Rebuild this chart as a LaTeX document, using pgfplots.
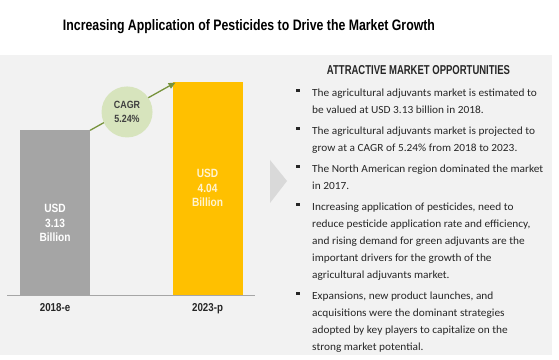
\documentclass[border=0pt]{standalone}
\usepackage{pgfplots}
\pgfplotsset{compat=1.18}
\usepackage{fontspec}
\setmainfont{Carlito}
\newfontfamily\bodyf[FakeStretch=1.04]{Carlito}
\newfontfamily\condf[FakeStretch=0.85]{Liberation Sans}
\newfontfamily\titlef{Liberation Sans}
\usetikzlibrary{arrows.meta}
\definecolor{bg}{HTML}{F2F2F2}
\definecolor{barGray}{HTML}{A5A5A5}
\definecolor{barYel}{HTML}{FFC000}
\definecolor{yelTxt}{HTML}{FFF3D0}
\definecolor{cagrFill}{HTML}{D7E4BD}
\definecolor{arrowC}{HTML}{77933C}
\definecolor{chev}{HTML}{D9D9D9}
\definecolor{txt}{HTML}{262626}
\newcommand\bodyfont{\bodyf\fontsize{10.95}{17}\selectfont}
\newcommand\bl[2]{\node[anchor=base west,inner sep=0pt,font=\bodyfont,text=txt] at (312bp,{(356-#1)*1bp}) {#2};}
\newcommand\bul[1]{\fill[txt] (296bp,{(360-#1-0.5)*1bp}) rectangle (299.5bp,{(360-#1+3)*1bp});}
\begin{document}
\begin{tikzpicture}
\fill[white] (0bp,0bp) rectangle (559bp,360bp);
\fill[bg] (0bp,5bp) rectangle (552bp,305bp);
% title
\node[text=black] at (249bp,333bp) {\resizebox{372bp}{11bp}{\titlef\bfseries Increasing Application of Pesticides to Drive the Market Growth}};
% chevron
\fill[chev] (270bp,200bp) -- (287bp,179bp) -- (270bp,157bp) -- cycle;
\begin{axis}[
  at={(7bp,65bp)}, anchor=south west,
  scale only axis, width=248bp, height=236.7bp,
  xmin=-0.315, xmax=1.311, ymin=0, ymax=4.5,
  axis x line*=bottom, axis y line=none,
  x axis line style={draw=black!35, line width=0.9bp},
  xtick={0,1}, xticklabels={2018-e,2023-p},
  major tick length=0pt,
  xticklabel style={font=\condf\bfseries\fontsize{11.5}{13}\selectfont, text=txt, yshift=-5bp},
  ytick=\empty,
  ybar, bar width=70bp, bar shift=0pt,
  clip=false,
]
\addplot[fill=barGray, draw=none] coordinates {(0,3.13)};
\addplot[fill=barYel, draw=none] coordinates {(1,4.04)};
\node[align=center, text=white, font=\condf\bfseries\fontsize{12}{14.5}\selectfont] at (axis cs:0,1.37) {USD\\3.13\\Billion};
\node[align=center, text=yelTxt, font=\condf\bfseries\fontsize{12}{14.5}\selectfont] at (axis cs:1,2.03) {USD\\4.04\\Billion};
\draw[arrowC, line width=1.3bp, -{Triangle[length=7bp,width=6bp]}] (axis cs:0.2295,3.13) -- (axis cs:0.79,4.04);
\node[circle, fill=cagrFill, minimum size=51bp, inner sep=0pt, align=center, text=black!75, font=\condf\bfseries\fontsize{10.5}{14}\selectfont] at (axis cs:0.472,3.48) {CAGR\\5.24\%};
\end{axis}
% right panel
\node[text=txt] at (418.5bp,290bp) {\resizebox{183bp}{9bp}{\titlef\bfseries ATTRACTIVE MARKET OPPORTUNITIES}};
\bul{92}\bl{92}{The agricultural adjuvants market is estimated to}
\bl{109}{be valued at USD 3.13 billion in 2018.}
\bul{130}\bl{130}{The agricultural adjuvants market is projected to}
\bl{147}{grow at a CAGR of 5.24\% from 2018 to 2023.}
\bul{168}\bl{168}{The North American region dominated the market}
\bl{185}{in 2017.}
\bul{206}\bl{206}{Increasing application of pesticides, need to}
\bl{223}{reduce pesticide application rate and efficiency,}
\bl{240}{and rising demand for green adjuvants are the}
\bl{257}{important drivers for the growth of the}
\bl{274}{agricultural adjuvants market.}
\bul{295}\bl{295}{Expansions, new product launches, and}
\bl{312}{acquisitions were the dominant strategies}
\bl{329}{adopted by key players to capitalize on the}
\bl{346}{strong market potential.}
\end{tikzpicture}
\end{document}
